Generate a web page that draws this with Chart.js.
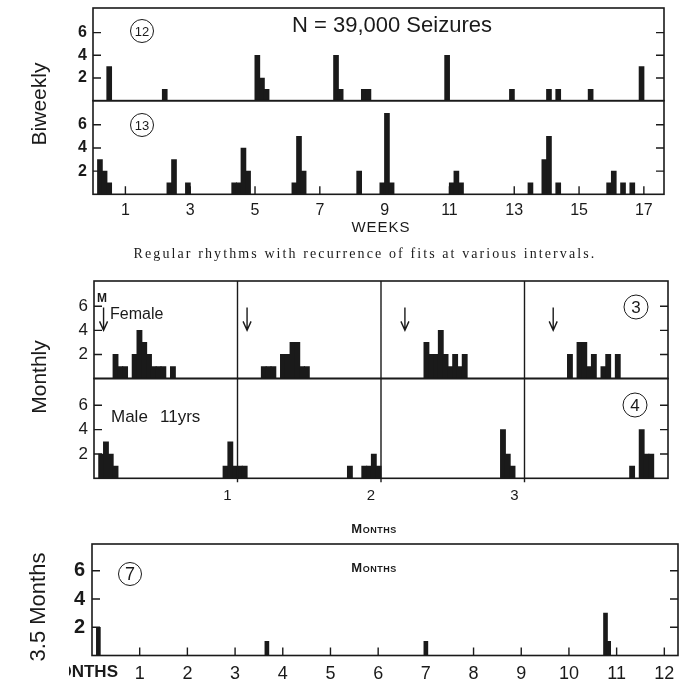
<!DOCTYPE html>
<html>
<head>
<meta charset="utf-8">
<title>Seizure rhythms</title>
<script src="https://cdn.jsdelivr.net/npm/chart.js@4.4.1/dist/chart.umd.min.js"></script>
<style>
  html, body { margin: 0; padding: 0; background: #fff; }
  #page { position: relative; width: 680px; height: 685px; overflow: hidden; background: #fff;
          font-family: 'Liberation Sans', Arial, sans-serif; color: #1a1a1a; }
  canvas { position: absolute; left: 0; top: 0; }
  .txt { position: absolute; white-space: nowrap; line-height: 1; }
  .rot { position: absolute; white-space: nowrap; line-height: 1; font-size: 21px;
         transform: translate(-50%, -50%) rotate(-90deg); }
  .circ { position: absolute; border: 1.5px solid #1a1a1a; border-radius: 50%; box-sizing: border-box;
          display: flex; align-items: center; justify-content: center; transform: translate(-50%, -50%); }
  .caps { font-variant: small-caps; font-weight: bold; font-size: 13px; letter-spacing: 0.5px; }
</style>
</head>
<body>
<div id="page">
  <canvas id="c12" width="680" height="685"></canvas>
  <canvas id="c13" width="680" height="685"></canvas>
  <canvas id="c3" width="680" height="685"></canvas>
  <canvas id="c4" width="680" height="685"></canvas>
  <canvas id="c7" width="680" height="685"></canvas>

  <div class="rot" style="left:38px; top:104px;">Biweekly</div>
  <div class="rot" style="left:38px; top:377px;">Monthly</div>
  <div class="rot" style="left:38px; top:607px; font-size:22px;">3.5 Months</div>

  <div class="txt" style="left:292px; top:14px; font-size:22px;">N = 39,000 Seizures</div>
  <div class="circ" style="left:142px; top:31px; width:24px; height:24px; font-size:13px;">12</div>
  <div class="circ" style="left:142px; top:125px; width:24px; height:24px; font-size:13px;">13</div>
  <div class="txt" style="left:331px; top:219px; width:100px; text-align:center; font-size:15px; letter-spacing:1px;">WEEKS</div>
  <div class="txt" style="left:0; top:247px; width:730px; text-align:center; font-family:'Liberation Serif', serif; font-size:14px; letter-spacing:2.1px;">Regular rhythms with recurrence of fits at various intervals.</div>

  <div class="txt" style="left:97px; top:292px; font-size:12px; font-weight:bold;">M</div>
  <div class="txt" style="left:110px; top:306px; font-size:16px;">Female</div>
  <div class="circ" style="left:636px; top:307px; width:25px; height:25px; font-size:17px;">3</div>
  <div class="txt" style="left:111px; top:408px; font-size:17px;">Male</div>
  <div class="txt" style="left:160px; top:408px; font-size:17px;">11yrs</div>
  <div class="circ" style="left:635px; top:405px; width:25px; height:25px; font-size:17px;">4</div>
  <div class="txt caps" style="left:324px; top:522px; width:100px; text-align:center;">Months</div>

  <div class="circ" style="left:130px; top:574px; width:24px; height:24px; font-size:18px;">7</div>
  <div class="txt caps" style="left:324px; top:561px; width:100px; text-align:center;">Months</div>
  <div style="position:absolute; left:69px; top:663px; width:49px; height:20px; overflow:hidden;">
    <span class="txt" style="right:0; top:0; font-size:17px; font-weight:bold;">MONTHS</span>
  </div>
</div>

<script>
// count axis ticks shared by all panels
const countTicks = [2, 4, 6];

// Biweekly panels: x in days, 7 days per week
const weekTicks = [1, 3, 5, 7, 9, 11, 13, 15, 17];
const p12Days   = [3, 15, 35, 36, 37, 52, 53, 58, 59, 76, 90, 98, 100, 107, 118];
const p12Counts = [3, 1, 4, 2, 1, 4, 1, 1, 1, 4, 1, 1, 1, 1, 3];
const p13Days   = [1, 2, 3, 16, 17, 20, 30, 31, 32, 33, 43, 44, 45, 57, 62, 63, 64, 77, 78, 79, 94, 97, 98, 100, 111, 112, 114, 116];
const p13Counts = [3, 2, 1, 1, 3, 1, 1, 1, 4, 2, 1, 5, 2, 2, 1, 7, 1, 1, 2, 1, 1, 3, 5, 1, 1, 2, 1, 1];

// Monthly panels: x in days, 30 days per month
const monthTicks   = [1, 2, 3];
const femaleDays   = [4, 5, 6, 8, 9, 10, 11, 12, 13, 14, 16, 35, 36, 37, 39, 40, 41, 42, 43, 44,
                      69, 70, 71, 72, 73, 74, 75, 76, 77, 99, 101, 102, 103, 104, 106, 107, 109];
const femaleCounts = [2, 1, 1, 2, 4, 3, 2, 1, 1, 1, 1, 1, 1, 1, 2, 2, 3, 3, 1, 1,
                      3, 2, 2, 4, 2, 1, 2, 1, 2, 2, 3, 3, 1, 2, 1, 2, 2];
const maleDays     = [1, 2, 3, 4, 27, 28, 29, 30, 31, 53, 56, 57, 58, 59, 85, 86, 87, 112, 114, 115, 116];
const maleCounts   = [2, 3, 2, 1, 1, 3, 1, 1, 1, 1, 1, 1, 2, 1, 4, 2, 1, 1, 4, 2, 2];
const mensesDays   = [2, 32, 65, 96];

// 3.5 month panel: x in days, 30 days per month
const yearTicks = [1, 2, 3, 4, 5, 6, 7, 8, 9, 10, 11, 12];
const p7Days    = [4, 110, 210, 323, 325];
const p7Counts  = [2, 1, 1, 3, 1];

const ink = '#1a1a1a';
const sans = "'Liberation Sans', Arial, sans-serif";

// box, inward tick marks, month dividers and arrows
const framePlugin = {
    id: 'frame',
    afterDatasetsDraw(chart, args, opts) {
        const { ctx, chartArea: a, scales } = chart;
        const x = scales.x, y = scales.y;
        ctx.save();
        ctx.strokeStyle = ink;
        ctx.lineWidth = 1.6;
        ctx.strokeRect(a.left, a.top, a.right - a.left, a.bottom - a.top);
        ctx.lineWidth = 1.4;
        ctx.beginPath();
        countTicks.forEach(v => {
            const py = y.getPixelForValue(v);
            ctx.moveTo(a.left, py); ctx.lineTo(a.left + opts.tickLen, py);
            ctx.moveTo(a.right, py); ctx.lineTo(a.right - opts.tickLen, py);
        });
        (opts.xTicks || []).forEach(v => {
            const px = x.getPixelForValue(v);
            ctx.moveTo(px, a.bottom); ctx.lineTo(px, a.bottom - opts.tickLen);
        });
        (opts.dividers || []).forEach(v => {
            const px = x.getPixelForValue(v);
            ctx.moveTo(px, a.top); ctx.lineTo(px, a.bottom + (opts.dividerExt || 0));
        });
        (opts.arrows || []).forEach(d => {
            const px = x.getPixelForValue(d);
            const y0 = y.getPixelForValue(opts.arrowFrom), y1 = y.getPixelForValue(opts.arrowTo);
            ctx.moveTo(px, y0); ctx.lineTo(px, y1);
            ctx.moveTo(px - 4, y1 - 9); ctx.lineTo(px, y1); ctx.lineTo(px + 4, y1 - 9);
        });
        ctx.stroke();
        ctx.restore();
    }
};

function bars(days, counts, shift) {
    return days.map((d, i) => ({ x: d + shift, y: counts[i] }));
}

// area = distances of the plot box from the canvas edges;
// the axes are sized to fill exactly the space outside the box
function drawPanel(id, o) {
    const hasX = !!o.xLabels;
    return new Chart(document.getElementById(id), {
        type: 'bar',
        data: {
            datasets: [{
                data: o.points,
                backgroundColor: ink,
                borderWidth: 0,
                barThickness: o.barWidth
            }]
        },
        options: {
            responsive: false,
            animation: false,
            layout: { padding: { left: 0, top: o.area.top, right: o.area.right, bottom: 0 } },
            plugins: {
                legend: { display: false },
                tooltip: { enabled: false },
                frame: o.frame
            },
            scales: {
                x: {
                    type: 'linear',
                    position: 'bottom',
                    min: 0,
                    max: o.xMax,
                    offset: false,
                    grid: { display: false, drawTicks: false, offset: false },
                    border: { display: false },
                    ticks: {
                        display: hasX,
                        color: ink, font: o.xFont, padding: o.xPad || 0, autoSkip: false, maxRotation: 0,
                        labelOffset: o.xShift || 0,
                        callback: v => String(Math.round(v / o.unit))
                    },
                    afterBuildTicks: s => { s.ticks = (o.xLabels || []).map(t => ({ value: t * o.unit })); },
                    afterFit: s => { s.height = o.area.bottom; s.paddingLeft = 0; s.paddingRight = 0; }
                },
                y: {
                    type: 'linear',
                    position: 'left',
                    min: 0,
                    max: o.yMax,
                    grid: { display: false, drawTicks: false },
                    border: { display: false },
                    ticks: { color: ink, font: o.yFont, padding: o.yPad, autoSkip: false, callback: v => String(v) },
                    afterBuildTicks: s => { s.ticks = countTicks.map(v => ({ value: v })); },
                    afterFit: s => { s.width = o.area.left; s.paddingTop = 0; s.paddingBottom = 0; }
                }
            }
        },
        plugins: [framePlugin]
    });
}

// Biweekly 12
drawPanel('c12', {
    points: bars(p12Days, p12Counts, 0.5), barWidth: 5,
    area: { left: 93, top: 8, right: 16, bottom: 584.3 },
    xMax: 123.35, unit: 7, yMax: 8.17,
    yFont: { family: sans, size: 16, weight: 'bold' }, yPad: 6,
    frame: { tickLen: 8 }
});

// Biweekly 13
drawPanel('c13', {
    points: bars(p13Days, p13Counts, 0.5), barWidth: 5,
    area: { left: 93, top: 100.7, right: 16, bottom: 490.7 },
    xMax: 123.35, unit: 7, yMax: 8.08,
    xLabels: weekTicks, xFont: { family: sans, size: 16 }, xPad: 7,
    yFont: { family: sans, size: 16, weight: 'bold' }, yPad: 6,
    frame: { tickLen: 8, xTicks: weekTicks.map(w => w * 7) }
});

// Monthly 3 (female)
drawPanel('c3', {
    points: bars(femaleDays, femaleCounts, 0.5), barWidth: 5.2,
    area: { left: 94, top: 281, right: 12, bottom: 306.5 },
    xMax: 120, unit: 30, yMax: 8.1,
    yFont: { family: sans, size: 17 }, yPad: 6,
    frame: { tickLen: 8, dividers: monthTicks.map(m => m * 30), arrows: mensesDays, arrowFrom: 5.9, arrowTo: 4.0 }
});

// Monthly 4 (male)
drawPanel('c4', {
    points: bars(maleDays, maleCounts, 0.5), barWidth: 5.2,
    area: { left: 94, top: 378.5, right: 12, bottom: 206.7 },
    xMax: 120, unit: 30, yMax: 8.2,
    xLabels: monthTicks, xFont: { family: sans, size: 15 }, xPad: 9, xShift: -10,
    yFont: { family: sans, size: 17 }, yPad: 6,
    frame: { tickLen: 8, dividers: monthTicks.map(m => m * 30), dividerExt: 4 }
});

// 3.5 months 7
drawPanel('c7', {
    points: bars(p7Days, p7Counts, 0), barWidth: 4,
    area: { left: 92, top: 544, right: 2, bottom: 29.5 },
    xMax: 368.6, unit: 30, yMax: 7.9,
    xLabels: yearTicks, xFont: { family: sans, size: 18 }, xPad: 8,
    yFont: { family: sans, size: 20, weight: 'bold' }, yPad: 7,
    frame: { tickLen: 8, xTicks: yearTicks.map(m => m * 30) }
});
</script>
</body>
</html>
